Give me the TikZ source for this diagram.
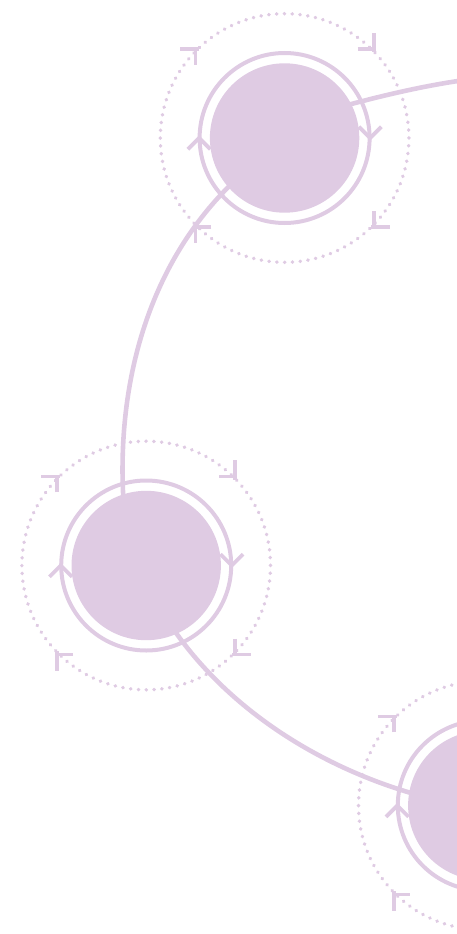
\documentclass[tikz,border=0pt]{standalone}
\usetikzlibrary{calc}
\definecolor{lav}{RGB}{223,203,227}
\begin{document}
\begin{tikzpicture}[x=1pt,y=-1pt,
  ringline/.style={draw=lav, line width=4pt},
  dotring/.style={draw=lav, line width=3.6pt, line cap=round, dash pattern=on 0.3pt off 7.51pt},
  conn/.style={draw=lav, line width=4.6pt, shorten <=-8pt, shorten >=-8pt},
  hub/.style={circle, inner sep=0pt, minimum size=149.4pt},
  tipmark/.pic={\draw[pic actions] (-11.3pt,-11.3pt) -- (0pt,0pt) -- (-11.3pt,11.3pt) (0pt,0pt) -- (2.2pt,-2.2pt);},
  ringmark/.pic={\draw[pic actions] (-11.3pt,-11.3pt) -- (0pt,0pt) -- (-11.3pt,11.3pt);},
  markstyle/.style={draw=lav, line width=3.6pt},
  ringmarkstyle/.style={draw=lav, line width=3.8pt}
  ]
\useasboundingbox (0,0) rectangle (457,934);
\clip (0,0) rectangle (457,934);
\node[hub] (c1) at (284.6,138) {};
\node[hub] (c2) at (146.2,565.5) {};
\node[hub] (c3) at (482.8,805.5) {};
\coordinate (e) at (480,78);
% dotted orbits and rings
\foreach \c in {c1,c2,c3}{
  \draw[dotring] (\c.center) circle[radius=124.3pt];
  \draw[ringline] (\c.center) circle[radius=85pt];
  \foreach \a in {45,135,225,315}{
    \pgfmathsetmacro{\rot}{\a-90}
    \pic[markstyle, rotate=\rot] at ($(\c.center)+(\a:126pt)$) {tipmark};
  }
  \pic[ringmarkstyle, rotate=-90] at ($(\c.center)+(0:85.5pt)$) {ringmark};
  \pic[ringmarkstyle, rotate=90] at ($(\c.center)+(180:85.5pt)$) {ringmark};
}
% connectors
\draw[conn] (c1.27) .. controls (390,93.5) and (440,82) .. (e);
\draw[conn] (c1.221) .. controls (150,262) and (116,380) .. (c2.108);
\draw[conn] (c2.294) .. controls (226.5,707) and (316,766) .. (c3.170);
% hubs
\foreach \c in {c1,c2,c3}{
  \fill[lav] (\c.center) circle[radius=74.7pt];
}
\end{tikzpicture}
\end{document}
